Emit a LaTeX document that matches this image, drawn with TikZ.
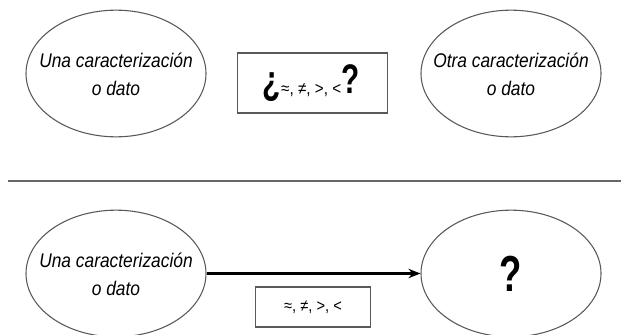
\documentclass[tikz,border=0pt]{standalone}
\usepackage{fontspec}
\setmainfont{Liberation Sans}
\newfontfamily\narrowfont[FakeStretch=0.88]{Liberation Sans}
\newfontfamily\tallfont[FakeStretch=0.72]{Liberation Sans}
\usetikzlibrary{positioning,shapes.geometric,arrows.meta}

\begin{document}
\begin{tikzpicture}[x=0.75pt,y=-0.75pt,
	idea/.style={draw=black!65,line width=0.8pt,ellipse,minimum width=135pt,minimum height=95pt,inner sep=0pt},
	ideatext/.style={align=center,inner sep=0pt,font=\narrowfont\itshape\fontsize{14.8}{21}\selectfont},
	relbox/.style={draw=black!65,line width=0.8pt,rectangle,inner sep=0pt}]

\useasboundingbox (0,0) rectangle (621,335);

% arriba: dos caracterizaciones y la pregunta
\node[idea] (una) at (116,73.5) {};
\node[ideatext] (unatext) at ([yshift=-1pt]una.center) {Una caracterizaci\'on\\o dato};
\node[idea] (otra) at (511,73.5) {};
\node[ideatext] (otratext) at ([yshift=-1pt]otra.center) {Otra caracterizaci\'on\\o dato};
\node[relbox,minimum width=112pt,minimum height=45pt] (rel) at (312.5,83) {};
\node (pregunta) at ([xshift=-1pt]rel.center) {{\tallfont\bfseries\fontsize{31}{31}\selectfont ¿}{\narrowfont\fontsize{13}{13}\selectfont ≈, ≠, >, <}{\tallfont\bfseries\fontsize{31}{31}\selectfont\raisebox{1pt}{?}}};

% separador
\coordinate (s1) at (8,181);
\coordinate (s2) at (621,181);
\draw[black!60,line width=1.1pt] (s1) -- (s2);

% abajo: la relacion lleva al resultado
\node[idea] (una2) at (116,273.5) {};
\node[ideatext] (una2text) at ([yshift=-1pt]una2.center) {Una caracterizaci\'on\\o dato};
\node[idea,font=\tallfont\bfseries\fontsize{38}{38}\selectfont] (res) at (511,273.5) {?};
\draw[line width=2pt,-{Stealth[length=9pt,width=7pt]}] (una2) -- (res);
\node[relbox,minimum width=86pt,minimum height=30pt,font=\narrowfont\fontsize{12.5}{12.5}\selectfont] (rel2) at (313,307) {≈, ≠, >, <};

\end{tikzpicture}
\end{document}
